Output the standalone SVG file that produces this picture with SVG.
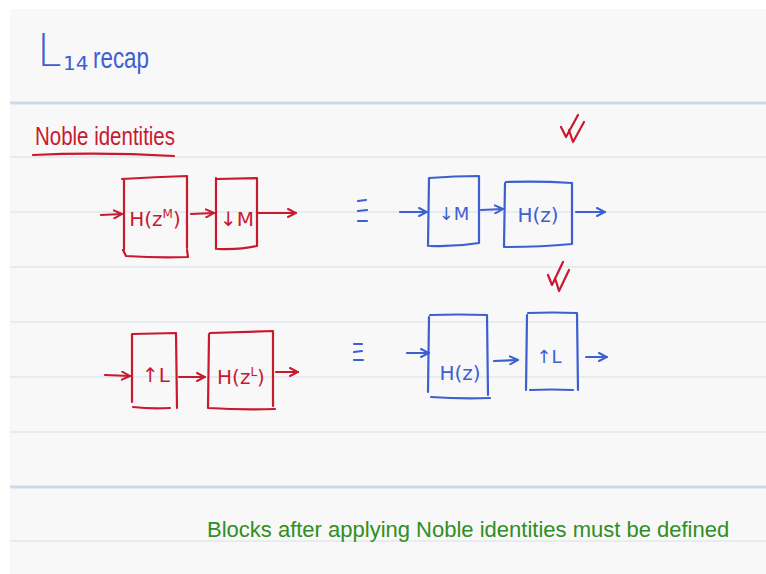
<svg xmlns="http://www.w3.org/2000/svg" width="766" height="574" viewBox="0 0 766 574">
  <style>
    .rule { stroke: #e3e8ef; stroke-width: 1.5; }
    .rule-strong { stroke: #c9dcec; stroke-width: 3; }
    .ink-red { stroke: #c8192f; fill: none; stroke-width: 2.2; stroke-linecap: round; stroke-linejoin: round; }
    .ink-blue { stroke: #3d5fd2; fill: none; stroke-width: 2.2; stroke-linecap: round; stroke-linejoin: round; }
    .t { font-family: "DejaVu Sans", "Liberation Sans", sans-serif; }
    .ls { font-family: "Liberation Sans", "DejaVu Sans", sans-serif; }
    .t-red { fill: #c8192f; }
    .t-blue { fill: #3d5fd2; }
    .t-green { fill: #2f8f22; }
  </style>
  <defs>
    <marker id="head-red" viewBox="0 0 10 10" refX="9" refY="5" markerWidth="10" markerHeight="10" markerUnits="userSpaceOnUse" orient="auto">
      <path d="M1,1 L9,5 L1,9" fill="none" stroke="#c8192f" stroke-width="2" stroke-linecap="round"/>
    </marker>
    <marker id="head-blue" viewBox="0 0 10 10" refX="9" refY="5" markerWidth="10" markerHeight="10" markerUnits="userSpaceOnUse" orient="auto">
      <path d="M1,1 L9,5 L1,9" fill="none" stroke="#3d5fd2" stroke-width="2" stroke-linecap="round"/>
    </marker>
  </defs>

  <!-- paper -->
  <rect x="0" y="0" width="766" height="574" fill="#ffffff"/>
  <rect x="10" y="9" width="756" height="565" fill="#f8f8f8"/>

  <!-- ruled lines -->
  <g id="rules">
    <line class="rule-strong" x1="10" y1="103" x2="766" y2="103"/>
    <line class="rule" x1="10" y1="157" x2="766" y2="157"/>
    <line class="rule" x1="10" y1="212" x2="766" y2="212"/>
    <line class="rule" x1="10" y1="267" x2="766" y2="267"/>
    <line class="rule" x1="10" y1="322" x2="766" y2="322"/>
    <line class="rule" x1="10" y1="377" x2="766" y2="377"/>
    <line class="rule" x1="10" y1="432" x2="766" y2="432"/>
    <line class="rule-strong" x1="10" y1="487" x2="766" y2="487"/>
    <line class="rule" x1="10" y1="541" x2="766" y2="541"/>
  </g>

  <!-- headings -->
  <g id="title">
    <text class="t t-blue" x="37" y="66" font-size="44" font-weight="300">L</text>
    <text class="t t-blue" x="63" y="70" font-size="20">14</text>
    <text class="ls t-blue" x="93" y="68" font-size="30" textLength="56" lengthAdjust="spacingAndGlyphs">recap</text>
  </g>
  <g id="heading">
    <text class="ls t-red" x="35" y="145" font-size="26" textLength="140" lengthAdjust="spacingAndGlyphs">Noble identities</text>
    <path class="ink-red" d="M33,155 Q100,152 174,156"/>
  </g>

  <!-- row 1, left: H(z^M) then down-sampler -->
  <g id="n-hzm">
    <path class="ink-red" d="M124,180 L124,250 M122,179 Q155,177 187,176 L187,248 M123,250 L126,256 Q158,258 188,257 L187,250"/>
    <text class="t t-red" x="155" y="226" font-size="20" text-anchor="middle">H(z<tspan font-size="12" dy="-8">M</tspan><tspan dy="8">)</tspan></text>
  </g>
  <g id="n-down-m-1">
    <path class="ink-red" d="M216,178 L216,249 M217,179 L257,178 L257,246 Q240,250 218,249"/>
    <text class="t t-red" x="237" y="226" font-size="20" text-anchor="middle">↓M</text>
  </g>

  <!-- row 1, right: down-sampler then H(z) -->
  <g id="n-down-m-2">
    <path class="ink-blue" d="M429,178 L428,246 M429,178 Q455,176 479,176 L479,243 Q455,247 430,246"/>
    <text class="t t-blue" x="454" y="220" font-size="18" text-anchor="middle">↓M</text>
  </g>
  <g id="n-hz-1">
    <path class="ink-blue" d="M505,183 L504,247 M506,182 Q540,181 572,183 L572,244 Q540,247 505,247"/>
    <text class="t t-blue" x="538" y="222" font-size="20" text-anchor="middle">H(z)</text>
  </g>

  <!-- row 2, left: up-sampler then H(z^L) -->
  <g id="n-up-l-1">
    <path class="ink-red" d="M132,334 L132,402 M133,334 L176,333 L177,408 M133,407 Q150,409 170,408"/>
    <text class="t t-red" x="156" y="382" font-size="20" text-anchor="middle">↑L</text>
  </g>
  <g id="n-hzl">
    <path class="ink-red" d="M209,334 L208,408 M210,333 Q240,332 273,331 L273,406 M209,408 Q240,410 275,409"/>
    <text class="t t-red" x="241" y="384" font-size="20" text-anchor="middle">H(z<tspan font-size="12" dy="-8">L</tspan><tspan dy="8">)</tspan></text>
  </g>

  <!-- row 2, right: H(z) then up-sampler -->
  <g id="n-hz-2">
    <path class="ink-blue" d="M429,317 L428,392 M430,315 Q458,314 487,315 L488,395 M431,397 Q460,399 490,398"/>
    <text class="t t-blue" x="460" y="380" font-size="20" text-anchor="middle">H(z)</text>
  </g>
  <g id="n-up-l-2">
    <path class="ink-blue" d="M527,315 L526,390 M528,313 Q552,312 577,313 L578,390 M530,390 Q552,389 573,390"/>
    <text class="t t-blue" x="549" y="363" font-size="18" text-anchor="middle">↑L</text>
  </g>

  <!-- equivalence signs -->
  <g id="eq-1">
    <path class="ink-blue" d="M358,201 L366,200 M358,211 L367,210 M358,221 L367,221"/>
  </g>
  <g id="eq-2">
    <path class="ink-blue" d="M354,344 L362,344 M354,352 L362,351 M354,360 L363,360"/>
  </g>

  <!-- check marks -->
  <g id="check-1">
    <path class="ink-red" d="M561,127 L566,137 L578,115 M569,130 L573,142 L584,122"/>
  </g>
  <g id="check-2">
    <path class="ink-red" d="M548,275 L552,285 L563,262 M555,278 L559,291 L569,270"/>
  </g>

  <!-- connectors -->
  <g id="connectors">
    <path class="ink-red" d="M101,215 L122,214" marker-end="url(#head-red)"/>
    <path class="ink-red" d="M191,214 L214,213" marker-end="url(#head-red)"/>
    <path class="ink-red" d="M258,213 L296,213" marker-end="url(#head-red)"/>
    <path class="ink-blue" d="M400,212 L427,212" marker-end="url(#head-blue)"/>
    <path class="ink-blue" d="M481,210 L503,209" marker-end="url(#head-blue)"/>
    <path class="ink-blue" d="M576,212 L605,212" marker-end="url(#head-blue)"/>
    <path class="ink-red" d="M105,375 L130,376" marker-end="url(#head-red)"/>
    <path class="ink-red" d="M179,377 L205,377" marker-end="url(#head-red)"/>
    <path class="ink-red" d="M276,372 L298,372" marker-end="url(#head-red)"/>
    <path class="ink-blue" d="M407,353 L429,353" marker-end="url(#head-blue)"/>
    <path class="ink-blue" d="M494,361 L518,360" marker-end="url(#head-blue)"/>
    <path class="ink-blue" d="M586,357 L607,357" marker-end="url(#head-blue)"/>
  </g>

  <!-- footnote -->
  <g id="note">
    <text class="ls t-green" x="207" y="537" font-size="22">Blocks after applying Noble identities must be defined</text>
  </g>
</svg>
